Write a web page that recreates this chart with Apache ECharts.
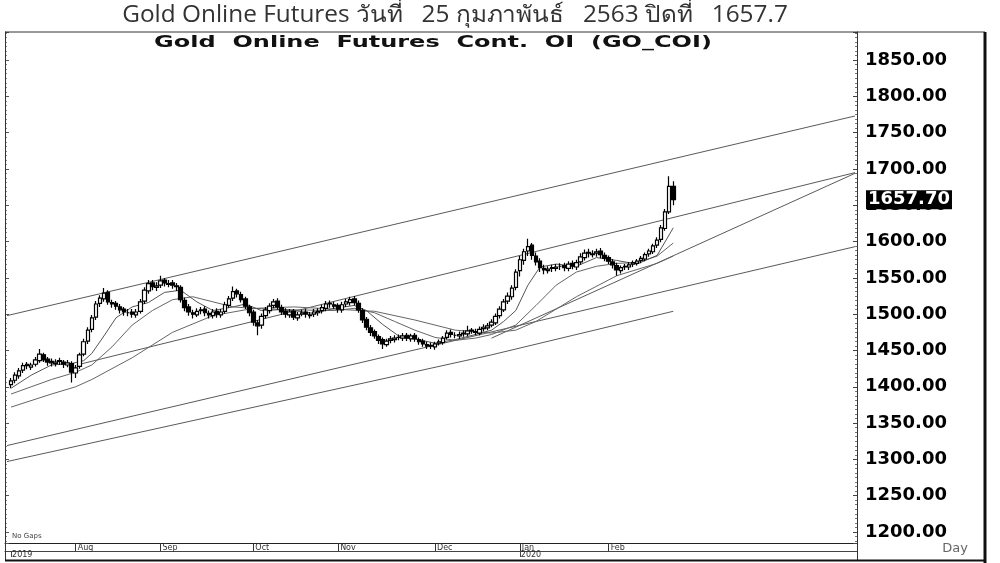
<!DOCTYPE html>
<html><head><meta charset="utf-8">
<script src="https://cdn.jsdelivr.net/npm/echarts@6/dist/echarts.min.js"></script>
<style>html,body{margin:0;padding:0;background:#fff}#c{width:1000px;height:563px}</style>
</head><body><div id="c"></div>
<script>
// ---- data (daily, 2019-07 .. 2020-02-25), category index = day index + 1 ----
const opens = [1403,1409,1415,1423,1431,1427,1431,1436,1444,1438,
 1435,1432,1436,1434,1430,1432,1419,1428,1445,1463,
 1479,1496,1515,1521,1530,1516,1515,1510,1507,1502,
 1503,1499,1504,1518,1532,1543,1537,1540,1547,1541,
 1543,1539,1537,1519,1510,1502,1499,1505,1507,1501,
 1498,1504,1499,1504,1512,1522,1532,1527,1521,1510,
 1503,1488,1485,1498,1505,1512,1518,1509,1504,1499,
 1504,1495,1500,1503,1498,1500,1502,1505,1508,1515,
 1513,1512,1506,1514,1516,1521,1515,1505,1493,1481,
 1476,1469,1465,1458,1464,1465,1468,1467,1471,1466,
 1471,1465,1463,1458,1457,1455,1460,1461,1468,1475,
 1471,1470,1473,1473,1478,1476,1474,1480,1481,1485,
 1488,1498,1506,1518,1524,1537,1560,1574,1587,1595,
 1580,1573,1563,1560,1563,1563,1566,1567,1563,1570,
 1565,1572,1578,1585,1582,1584,1587,1581,1578,1572,
 1567,1560,1565,1565,1569,1570,1574,1576,1583,1586,
 1595,1603,1618,1641,1676];
const closes = [1408,1416,1422,1429,1429,1430,1437,1445,1437,1434,
 1433,1434,1435,1431,1433,1420,1426,1444,1462,1478,
 1495,1514,1522,1529,1517,1514,1511,1506,1503,1502,
 1500,1503,1517,1533,1542,1538,1539,1546,1543,1542,
 1540,1538,1520,1509,1503,1500,1504,1506,1502,1499,
 1503,1500,1503,1513,1521,1531,1528,1520,1511,1502,
 1489,1484,1497,1506,1511,1517,1510,1503,1500,1503,
 1496,1499,1502,1500,1499,1503,1504,1509,1514,1514,
 1511,1507,1513,1517,1520,1516,1506,1492,1482,1475,
 1470,1464,1459,1463,1466,1467,1468,1470,1467,1470,
 1466,1462,1459,1456,1456,1459,1462,1467,1474,1472,
 1471,1472,1474,1477,1477,1475,1479,1482,1484,1489,
 1497,1507,1517,1525,1536,1558,1575,1586,1593,1581,
 1572,1564,1561,1562,1564,1565,1566,1564,1569,1566,
 1571,1579,1584,1584,1583,1586,1582,1577,1573,1568,
 1561,1564,1566,1568,1571,1573,1577,1582,1587,1594,
 1602,1619,1641,1676,1657.7];
const highs = [1412,1420,1426,1433,1434,1433,1441,1452,1447,1441,
 1439,1438,1440,1437,1437,1435,1430,1447,1466,1482,
 1499,1518,1526,1536,1533,1520,1518,1514,1510,1507,
 1507,1507,1521,1537,1547,1547,1544,1553,1550,1547,
 1547,1543,1540,1523,1514,1506,1508,1510,1511,1505,
 1507,1508,1507,1517,1525,1538,1535,1531,1524,1513,
 1506,1492,1501,1510,1515,1521,1522,1513,1508,1507,
 1507,1503,1506,1507,1503,1507,1508,1513,1518,1519,
 1517,1515,1517,1521,1524,1525,1519,1508,1496,1485,
 1479,1472,1468,1466,1470,1471,1472,1474,1474,1473,
 1474,1468,1466,1462,1461,1462,1465,1470,1478,1479,
 1475,1476,1478,1484,1481,1480,1483,1486,1488,1493,
 1501,1511,1521,1530,1540,1562,1580,1590,1604,1598,
 1585,1577,1568,1566,1568,1569,1570,1571,1573,1574,
 1575,1584,1589,1590,1588,1590,1591,1585,1581,1576,
 1571,1567,1569,1572,1574,1576,1580,1585,1590,1597,
 1606,1623,1645,1690,1683];
const lows = [1398,1405,1411,1419,1424,1423,1428,1433,1434,1429,
 1428,1428,1430,1426,1427,1406,1412,1425,1442,1459,
 1475,1492,1510,1517,1513,1509,1506,1501,1498,1497,
 1495,1495,1501,1514,1528,1533,1532,1536,1538,1537,
 1535,1532,1516,1504,1498,1494,1496,1500,1497,1494,
 1494,1495,1495,1501,1509,1518,1523,1516,1507,1497,
 1484,1471,1480,1494,1501,1508,1506,1499,1495,1495,
 1492,1491,1497,1495,1494,1496,1498,1501,1504,1509,
 1507,1502,1502,1510,1512,1512,1502,1488,1478,1470,
 1466,1459,1452,1455,1460,1461,1464,1463,1463,1462,
 1462,1458,1455,1452,1452,1451,1457,1458,1465,1468,
 1467,1466,1469,1470,1473,1471,1471,1476,1478,1482,
 1485,1494,1503,1514,1520,1533,1552,1568,1580,1575,
 1567,1558,1555,1556,1558,1559,1561,1559,1559,1562,
 1561,1568,1574,1578,1578,1579,1577,1573,1569,1563,
 1553,1556,1561,1561,1565,1567,1570,1573,1579,1583,
 1591,1599,1615,1638,1650];
const lastPrice = 1657.7;
const totalCategories = 211;          // 1 blank lead + 165 days + future space
const monthTickIdx = [17, 38, 61, 82, 106, 127, 149];
const monthTickLabels = ['Aug','Sep','Oct','Nov','Dec','Jan','Feb'];
const yearTickIdx = [1, 127];
const yearTickLabels = ['2019','2020'];
const yTicks = [1200,1250,1300,1350,1400,1450,1500,1550,1600,1650,1700,1750,1800,1850];
// moving-average curves: [categoryIndex, value]
const maFast = [[1,1398],[6,1416],[11,1430],[16,1432],[19,1436],[21,1446],[24,1470],[27,1495],[31,1510],[35,1516],[39,1530],[43,1533],[47,1517],[51,1505],[56,1510],[59,1514],[63,1505],[67,1506],[71,1505],[76,1501],[81,1508],[86,1512],[89,1505],[93,1486],[97,1470],[101,1466],[106,1460],[111,1465],[116,1472],[120,1478],[123,1490],[126,1505],[129,1540],[132,1565],[136,1569],[141,1566],[146,1578],[151,1574],[156,1569],[161,1581],[165,1619]];
const maMid = [[1,1390],[11,1410],[17,1420],[21,1430],[26,1455],[31,1485],[36,1505],[41,1520],[46,1524],[51,1517],[56,1510],[61,1508],[71,1506],[81,1505],[86,1508],[91,1502],[96,1490],[101,1478],[106,1468],[111,1464],[116,1467],[120,1472],[126,1485],[131,1512],[136,1540],[141,1558],[146,1566],[151,1570],[156,1571],[161,1580],[165,1598]];
const maSlow = [[1,1372],[11,1390],[17,1400],[21,1410],[31,1440],[41,1475],[51,1498],[61,1508],[71,1510],[81,1507],[91,1504],[101,1492],[111,1478],[120,1474],[126,1478],[131,1490],[141,1524],[151,1553],[161,1570],[165,1580]];
// trend lines: [categoryIndex, value]
const trendUpper = [[0,1498],[210,1773]];
const trendMid   = [[18,1431],[210,1695]];
const trendRise  = [[120,1467],[210,1694]];
const trendLow1  = [[0,1319],[210,1593]];
const trendLow2  = [[0,1297],[120,1444],[165,1504]];

// ---- build ----
const cats = [], yearCats = [];
for (let k = 0; k < totalCategories; k++) { cats.push(''); yearCats.push(''); }
monthTickIdx.forEach((k, j) => cats[k] = monthTickLabels[j]);
yearTickIdx.forEach((k, j) => yearCats[k] = yearTickLabels[j]);
const monthSet = new Set(monthTickIdx), yearSet = new Set(yearTickIdx);
const ohlc = [['-','-','-','-']];
for (let i = 0; i < closes.length; i++) ohlc.push([opens[i], closes[i], lows[i], highs[i]]);

const yMin = 1184.8, yMax = 1888.7;
const chart = echarts.init(document.getElementById('c'), null, {renderer:'canvas'});
const lineS = (d, c) => ({type:'line', data:d, symbol:'none', silent:true, z:2,
  lineStyle:{color:c||'#5a5a5a', width:1}, animation:false});
const frame = [
    {type:'text', x:455, y:15, scaleX:1.06, style:{text:'Gold Online Futures วันที่   25 กุมภาพันธ์   2563 ปิดที่   1657.7',
      textAlign:'center', textVerticalAlign:'middle', font:'23px "Open Sans", "Noto Sans", sans-serif', fill:'#333'}, z:10},
    {type:'text', x:433, y:43, scaleX:1.6, style:{text:'Gold  Online  Futures  Cont.  OI  (GO_COI)', textAlign:'center', textVerticalAlign:'middle',
      font:'bold 15px "DejaVu Sans"', fill:'#111'}, z:10},
    {type:'line', shape:{x1:5, y1:32, x2:985, y2:32}, style:{stroke:'#333', lineWidth:1}, z:10},
    {type:'line', shape:{x1:5.5, y1:32, x2:5.5, y2:560}, style:{stroke:'#333', lineWidth:1}, z:10},
    {type:'line', shape:{x1:857.5, y1:32, x2:857.5, y2:560}, style:{stroke:'#333', lineWidth:1}, z:10},
    {type:'line', shape:{x1:985, y1:32, x2:985, y2:563}, style:{stroke:'#111', lineWidth:3}, z:10},
    {type:'line', shape:{x1:5, y1:560.5, x2:986, y2:560.5}, style:{stroke:'#111', lineWidth:2}, z:10},
    {type:'text', x:12, y:533, style:{text:'No Gaps', font:'7px "DejaVu Sans"', fill:'#444'}, z:10},
    {type:'text', x:955, y:549, style:{text:'Day', textAlign:'center', textVerticalAlign:'middle', font:'13px "DejaVu Sans"', fill:'#666'}, z:10}
];
chart.setOption({
  animation:false,
  backgroundColor:'#fff',
  grid:{left:5, right:143, top:32, bottom:20, containLabel:false},
  xAxis:[{
    type:'category', data:cats, boundaryGap:true, position:'bottom',
    axisLine:{lineStyle:{color:'#222', width:1}},
    axisTick:{show:true, alignWithLabel:true, interval:(i)=>monthSet.has(i), length:8, lineStyle:{color:'#333'}},
    axisLabel:{interval:(i)=>monthSet.has(i), align:'left', fontSize:8, color:'#333', margin:1, padding:[0,0,0,2], fontFamily:'DejaVu Sans'},
    splitLine:{show:false}
  },{
    type:'category', data:yearCats, boundaryGap:true, position:'bottom', offset:8,
    axisLine:{lineStyle:{color:'#444', width:1}},
    axisTick:{show:true, alignWithLabel:true, interval:(i)=>yearSet.has(i), length:6, lineStyle:{color:'#444'}},
    axisLabel:{interval:(i)=>yearSet.has(i), align:'left', fontSize:8, color:'#333', margin:0, padding:[0,0,0,1], fontFamily:'DejaVu Sans'},
    splitLine:{show:false}
  }],
  yAxis:[{
    type:'value', position:'right', min:yMin, max:yMax, splitNumber:14, scale:true,
    axisLine:{show:true, lineStyle:{color:'#222', width:1}},
    axisTick:{show:true, inside:true, length:4, lineStyle:{color:'#444'}},
    minorTick:{show:true, splitNumber:8, length:2, lineStyle:{color:'#777'}},
    axisLabel:{show:true, inside:false, margin:8, color:'#000', fontSize:18, fontWeight:'bold', fontFamily:'DejaVu Sans',
      showMinLabel:false, showMaxLabel:false,
      formatter:(v)=> (yTicks.indexOf(Math.round(v))>=0 && Math.abs(v-Math.round(v))<1e-6) ? v.toFixed(2) : ''},
    splitLine:{show:false}
  },{
    type:'value', position:'left', min:yMin, max:yMax, splitNumber:14,
    axisLine:{show:true, lineStyle:{color:'#222', width:1}},
    axisTick:{show:true, inside:true, length:4, lineStyle:{color:'#555'}},
    minorTick:{show:true, splitNumber:8, length:2, lineStyle:{color:'#888'}},
    axisLabel:{show:false}, splitLine:{show:false}
  }],
  series:[
    lineS(trendUpper), lineS(trendMid), lineS(trendRise), lineS(trendLow1), lineS(trendLow2),
    lineS(maSlow,'#666'), lineS(maMid,'#666'), lineS(maFast,'#555'),
    {type:'candlestick', data:ohlc, barWidth:4, z:3,
      itemStyle:{color:'#ffffff', color0:'#000', borderColor:'#000', borderColor0:'#000', borderWidth:1.2}}
  ],
  graphic:frame
});
// last-price tag on the price axis, positioned by the axis scale
const py = chart.convertToPixel({yAxisIndex:0}, lastPrice);
chart.setOption({graphic: frame.concat([
  {type:'text', x:866, y:py, z:12, style:{text:lastPrice.toFixed(2), textVerticalAlign:'middle',
    font:'bold 18px "DejaVu Sans"', fill:'#fff', backgroundColor:'#000', padding:[1,2,0,2]}}
])});
</script></body></html>
